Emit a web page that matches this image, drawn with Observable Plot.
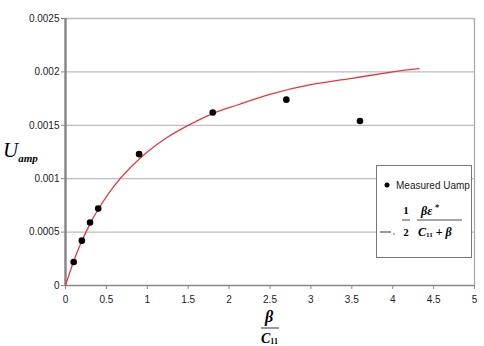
<!DOCTYPE html>
<html><head><meta charset="utf-8">
<script src="https://cdn.jsdelivr.net/npm/d3@7"></script>
<script src="https://cdn.jsdelivr.net/npm/@observablehq/plot@0.6"></script>
<style>
html,body{margin:0;padding:0;background:#fff;}
#chart{position:relative;width:484px;height:346px;}
</style></head>
<body><div id="chart"></div>
<script>
// Measured points (beta / C11, Uamp)
const ratio = [0.1, 0.2, 0.3, 0.4, 0.9, 1.8, 2.7, 3.6];
const uamp  = [0.00022, 0.00042, 0.00059, 0.00072, 0.00123, 0.00162, 0.00174, 0.00154];
// Fitted curve
const curveX = [0, 0.1, 0.2, 0.3, 0.4, 0.6, 0.8, 1.0, 1.25, 1.5, 1.8, 2.1, 2.5, 3.0, 3.5, 4.0, 4.32];
const curveY = [0, 0.000227, 0.000417, 0.000577, 0.000714, 0.000938, 0.00111, 0.00125, 0.00139, 0.0015, 0.00161, 0.00169, 0.00179, 0.00188, 0.00194, 0.0020, 0.00203];
// Axis ticks
const xTicks = [0, 0.5, 1, 1.5, 2, 2.5, 3, 3.5, 4, 4.5, 5];
const xTickLabels = ["0", "0.5", "1", "1.5", "2", "2.5", "3", "3.5", "4", "4.5", "5"];
const yTicks = [0, 0.0005, 0.001, 0.0015, 0.002, 0.0025];
const yTickLabels = ["0", "0.0005", "0.001", "0.0015", "0.002", "0.0025"];
const legendLabel = "Measured Uamp";

const points = ratio.map((r, i) => ({x: r, y: uamp[i]}));
const curve = curveX.map((x, i) => ({x, y: curveY[i]}));

const plot = Plot.plot({
  width: 484, height: 346,
  marginLeft: 65, marginRight: 10, marginTop: 18, marginBottom: 61,
  style: {fontFamily: "Arial, 'Liberation Sans', sans-serif", fontSize: "10px", color: "#222", background: "#fff"},
  x: {domain: [0, 5]},
  y: {domain: [0, 0.0025]},
  marks: [
    Plot.ruleY(yTicks.slice(1), {stroke: "#bdbdbd", strokeWidth: 1.3}),
    Plot.ruleX([5], {stroke: "#aaa", strokeWidth: 1.3}),
    Plot.axisY({ticks: yTicks, tickFormat: d => yTickLabels[yTicks.indexOf(d)], tickSize: 4, tickPadding: 2, label: null, stroke: "#888", fill: "#222"}),
    Plot.axisX({ticks: xTicks, tickFormat: d => xTickLabels[xTicks.indexOf(d)], tickSize: 4, tickPadding: 6, label: null, stroke: "#888", fill: "#222"}),
    Plot.ruleY([0], {stroke: "#888", strokeWidth: 1.3}),
    Plot.ruleX([0], {stroke: "#888", strokeWidth: 2.5}),
    Plot.line(curve, {x: "x", y: "y", curve: "natural", stroke: "#e23a3a", strokeWidth: 1.3}),
    Plot.dot(points, {x: "x", y: "y", r: 3.3, fill: "#000", stroke: "none"})
  ]
});
document.getElementById("chart").appendChild(plot);

const svg = d3.select(plot);
const serif = "'Times New Roman', 'Liberation Serif', 'DejaVu Serif', serif";
// Y label U_amp
const yl = svg.append("text").attr("x", 3).attr("y", 157).attr("text-anchor", "start").attr("font-family", serif).attr("font-style", "italic").attr("fill", "#000");
yl.append("tspan").attr("font-size", 21).text("U");
yl.append("tspan").attr("font-size", 11).attr("font-weight", "bold").attr("dy", 5).text("amp");
// X label beta / C11
svg.append("text").attr("x", 269).attr("y", 322).attr("text-anchor", "middle").attr("font-family", serif).attr("font-style", "italic").attr("font-weight", "bold").attr("font-size", 16).attr("fill", "#000").text("β");
svg.append("line").attr("x1", 261).attr("x2", 279).attr("y1", 328).attr("y2", 328).attr("stroke", "#000").attr("stroke-width", 0.8);
const cl = svg.append("text").attr("x", 261).attr("y", 343).attr("text-anchor", "start").attr("font-family", serif).attr("font-style", "italic").attr("font-weight", "bold").attr("font-size", 14).attr("fill", "#000");
cl.append("tspan").text("C");
cl.append("tspan").attr("font-size", 8).attr("font-style", "normal").attr("dy", 1).text("11");

// Legend
const lg = svg.append("g").attr("text-anchor", "start");
lg.append("rect").attr("x", 376.5).attr("y", 165.5).attr("width", 95).attr("height", 92).attr("fill", "#fff").attr("stroke", "#777").attr("stroke-width", 1);
lg.append("circle").attr("cx", 387).attr("cy", 185).attr("r", 2.5).attr("fill", "#000");
lg.append("text").attr("x", 396).attr("y", 189).attr("text-anchor", "start").attr("font-family", "Arial, 'Liberation Sans', sans-serif").attr("font-size", 10).attr("fill", "#222").text(legendLabel);
lg.append("line").attr("x1", 380).attr("x2", 391).attr("y1", 232).attr("y2", 232).attr("stroke", "#333").attr("stroke-width", 1);
lg.append("circle").attr("cx", 394).attr("cy", 234).attr("r", 0.7).attr("fill", "#333");
const fs = {"font-family": serif, "font-weight": "bold", fill: "#000"};
function t(x, y, size, txt, italic, anchor) {
  const e = lg.append("text").attr("x", x).attr("y", y).attr("font-size", size).attr("text-anchor", anchor || "start");
  for (const k in fs) e.attr(k, fs[k]);
  if (italic) e.attr("font-style", "italic");
  e.text(txt);
  return e;
}
t(406, 214, 11, "1", false, "middle");
lg.append("line").attr("x1", 402).attr("x2", 410).attr("y1", 220).attr("y2", 220).attr("stroke", "#000").attr("stroke-width", 0.7);
t(406, 236, 11, "2", false, "middle");
const num = t(430, 215, 12, "", true, "middle");
num.append("tspan").text("βε");
num.append("tspan").attr("font-size", 9).attr("dy", -5).text(" *");
lg.append("line").attr("x1", 417).attr("x2", 462).attr("y1", 220).attr("y2", 220).attr("stroke", "#000").attr("stroke-width", 0.7);
const den = t(418, 236, 12, "", true);
den.append("tspan").text("C");
den.append("tspan").attr("font-size", 7).attr("font-style", "normal").attr("dy", 1).text("11");
den.append("tspan").attr("dy", -1).attr("font-style", "normal").text(" + ");
den.append("tspan").text("β");
</script>
</body></html>
